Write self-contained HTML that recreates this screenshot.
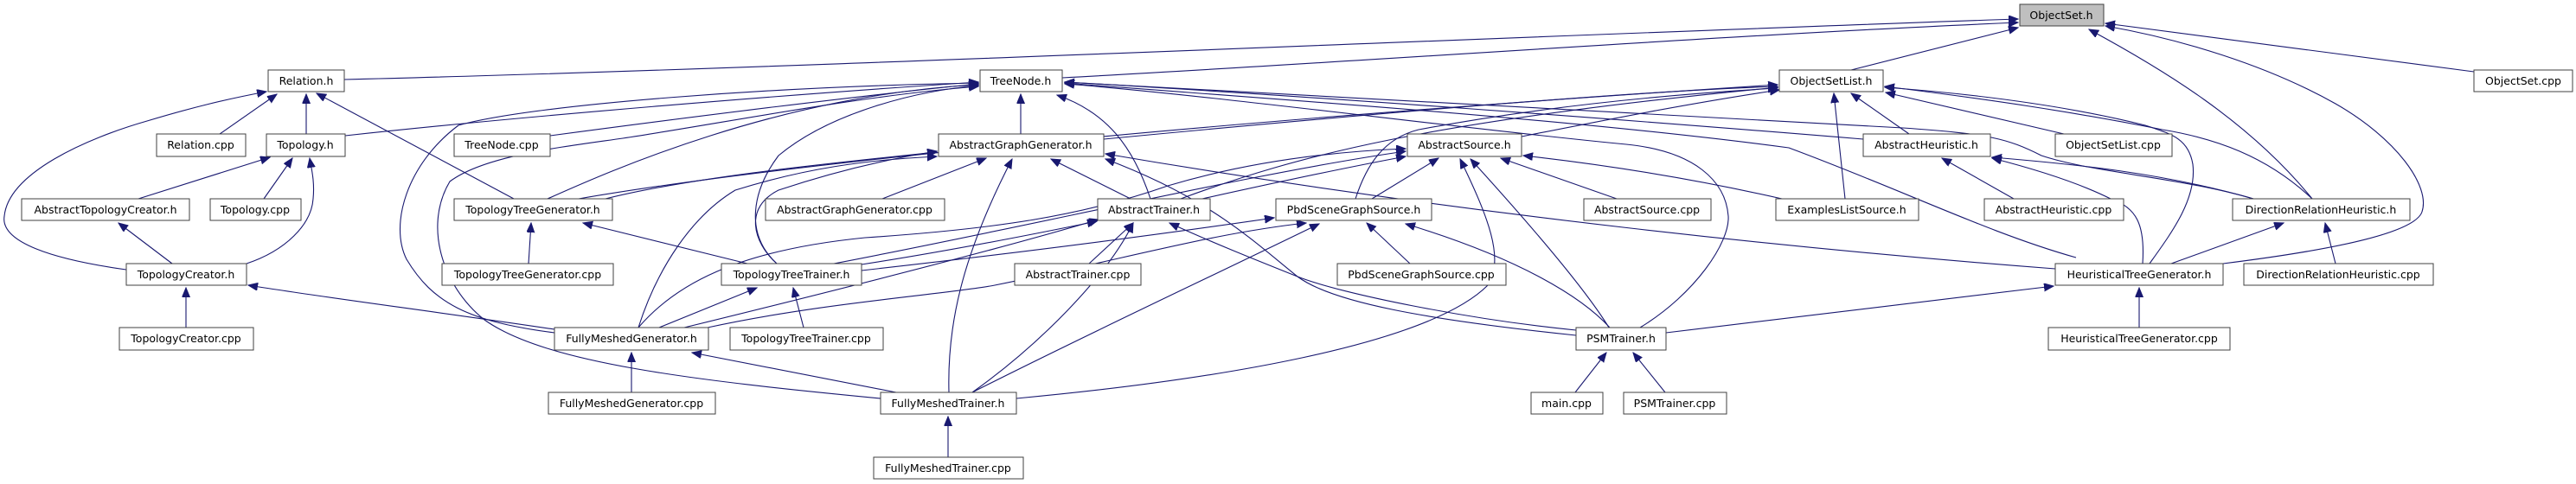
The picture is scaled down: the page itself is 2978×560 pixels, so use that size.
<!DOCTYPE html>
<html><head><meta charset="utf-8"><style>
html,body{margin:0;padding:0;background:#fff;}
svg{display:block;}
text{font-family:"DejaVu Sans","Liberation Sans",sans-serif;font-size:12.5px;fill:#000;}
.e{fill:none;stroke:#191970;stroke-width:1.1;}
.n{fill:#fff;stroke:#404040;stroke-width:1;}
</style></head><body>
<svg width="2978" height="560" viewBox="0 0 2978 560" xmlns="http://www.w3.org/2000/svg">
<defs><marker id="a" markerUnits="userSpaceOnUse" markerWidth="12" markerHeight="10" refX="11" refY="4.5" orient="auto"><path d="M0,0 L11,4.5 L0,9 z" fill="#191970" stroke="#191970"/></marker></defs>
<g class="e" marker-end="url(#a)">
<path d="M398,92 C900,80 1800,40 2333,22"/>
<path d="M1228,90 C1600,70 2000,40 2333,26"/>
<path d="M2140,81 L2333,32"/>
<path d="M2860,83 L2434,27"/>
<path d="M2673,230 C2600,140 2500,80 2415,34"/>
<path d="M2570,305 C2650,295 2790,275 2800,245 C2810,215 2770,160 2700,120 C2620,75 2520,45 2434,30"/>
<path d="M254,155 L320,109"/>
<path d="M354,155 L354,109"/>
<path d="M146,312 C60,300 0,280 5,250 C10,200 100,160 170,140 C220,125 260,115 308,106"/>
<path d="M594,230 L366,108"/>
<path d="M399,157 C600,135 900,110 1131,95"/>
<path d="M160,230 L312,182"/>
<path d="M305,230 L338,183"/>
<path d="M285,305 C330,290 360,260 362,230 C364,210 360,195 358,183"/>
<path d="M199,305 L137,258"/>
<path d="M215,379 L215,333"/>
<path d="M641,381 C500,360 380,345 287,330"/>
<path d="M636,157 C800,135 1000,110 1131,97"/>
<path d="M633,230 C700,200 900,110 1131,98"/>
<path d="M641,385 C540,372 500,350 470,300 C450,260 470,190 530,145 C620,120 900,100 1131,96"/>
<path d="M1180,155 L1180,109"/>
<path d="M1330,230 C1310,170 1280,130 1222,110"/>
<path d="M898,305 C860,270 870,220 900,180 C960,130 1060,105 1131,99"/>
<path d="M1896,379 C1960,340 2000,280 1998,250 C1995,210 1960,175 1880,167 C1700,150 1400,110 1231,97"/>
<path d="M2154,161 C1900,140 1500,110 1231,95"/>
<path d="M2605,230 C2520,205 2420,200 2360,180 C2320,160 2300,155 2200,148 C1800,125 1400,105 1231,95"/>
<path d="M2400,298 C2300,270 2200,220 2068,171 C1800,135 1400,110 1231,96"/>
<path d="M669,230 C900,190 1400,140 2055,98"/>
<path d="M1276,161 C1600,130 1900,105 2055,100"/>
<path d="M1365,230 C1500,180 1650,140 2055,101"/>
<path d="M1567,230 C1580,190 1600,160 1640,150 C1800,120 1950,108 2055,102"/>
<path d="M1759,158 C1850,140 1950,120 2057,104"/>
<path d="M2133,230 L2120,108"/>
<path d="M2207,155 L2140,108"/>
<path d="M2386,155 L2180,107"/>
<path d="M2673,230 C2620,180 2560,160 2500,150 C2400,130 2300,115 2179,100"/>
<path d="M2485,305 C2510,270 2540,230 2535,190 C2530,160 2510,155 2480,145 C2400,125 2300,110 2179,101"/>
<path d="M700,230 C800,205 950,190 1083,176"/>
<path d="M898,305 C870,280 860,240 900,220 C960,200 1020,185 1083,175"/>
<path d="M738,379 C760,310 800,250 850,220 C930,195 1000,185 1083,181"/>
<path d="M1020,230 L1140,183"/>
<path d="M1097,454 C1095,380 1110,300 1170,184"/>
<path d="M1307,230 L1215,184"/>
<path d="M1822,388 C1650,370 1540,350 1500,320 C1450,280 1400,230 1278,184"/>
<path d="M2376,311 C2100,290 1700,250 1278,178"/>
<path d="M996,306 C1100,290 1200,270 1268,256"/>
<path d="M791,379 C950,340 1150,290 1270,254"/>
<path d="M1124,454 C1200,400 1280,320 1310,258"/>
<path d="M1259,305 L1310,258"/>
<path d="M1822,382 C1700,370 1550,340 1500,320 C1450,300 1400,280 1352,258"/>
<path d="M1390,230 C1480,210 1550,195 1625,181"/>
<path d="M964,305 C1200,260 1450,200 1625,175"/>
<path d="M738,379 C780,330 850,290 1000,275 C1150,265 1250,250 1350,215 C1450,185 1550,175 1625,172"/>
<path d="M1586,230 L1663,183"/>
<path d="M1860,379 C1830,330 1760,250 1700,184"/>
<path d="M1175,461 C1400,440 1650,400 1720,330 C1740,300 1720,250 1688,184"/>
<path d="M1869,230 L1735,183"/>
<path d="M2060,230 C1950,205 1850,190 1761,180"/>
<path d="M996,313 C1200,290 1350,270 1473,252"/>
<path d="M818,379 C950,350 1100,340 1150,330 C1300,300 1400,270 1510,258"/>
<path d="M1124,454 C1250,390 1400,320 1525,259"/>
<path d="M1630,305 L1580,258"/>
<path d="M1861,379 C1830,345 1760,300 1625,259"/>
<path d="M611,305 L614,258"/>
<path d="M864,305 L674,258"/>
<path d="M929,379 L917,333"/>
<path d="M762,379 L875,333"/>
<path d="M730,454 L730,408"/>
<path d="M1036,454 L800,408"/>
<path d="M1096,529 L1096,482"/>
<path d="M1018,461 C800,440 630,420 560,370 C510,330 490,260 520,210 C560,180 650,170 720,160 C850,140 1000,110 1131,100"/>
<path d="M1821,454 L1857,408"/>
<path d="M1925,454 L1888,408"/>
<path d="M1926,385 L2374,331"/>
<path d="M2473,379 L2473,333"/>
<path d="M2510,305 L2640,258"/>
<path d="M2700,305 L2688,258"/>
<path d="M2328,230 L2245,183"/>
<path d="M2605,230 C2500,200 2400,190 2303,182"/>
<path d="M2477,305 C2480,260 2470,240 2440,230 C2400,210 2350,195 2303,183"/>
</g>
<g>
<rect x="2335" y="5" width="97" height="25" fill="#bfbfbf" stroke="#404040"/><text x="2383" y="22" text-anchor="middle">ObjectSet.h</text>
<g class="n">
<rect x="310" y="81" width="88" height="25"/><rect x="1133" y="81" width="95" height="25"/><rect x="2057" y="81" width="120" height="25"/><rect x="2860" y="81" width="114" height="25"/>
<rect x="181" y="155" width="103" height="26"/><rect x="308" y="155" width="91" height="26"/><rect x="525" y="155" width="111" height="26"/><rect x="1085" y="155" width="191" height="26"/><rect x="1627" y="155" width="132" height="26"/><rect x="2154" y="155" width="147" height="26"/><rect x="2376" y="155" width="135" height="26"/>
<rect x="25" y="230" width="194" height="25"/><rect x="243" y="230" width="105" height="25"/><rect x="525" y="230" width="183" height="25"/><rect x="885" y="230" width="207" height="25"/><rect x="1269" y="230" width="130" height="25"/><rect x="1475" y="230" width="180" height="25"/><rect x="1831" y="230" width="147" height="25"/><rect x="2053" y="230" width="165" height="25"/><rect x="2294" y="230" width="161" height="25"/><rect x="2581" y="230" width="205" height="25"/>
<rect x="146" y="305" width="139" height="25"/><rect x="511" y="305" width="198" height="25"/><rect x="834" y="305" width="162" height="25"/><rect x="1173" y="305" width="146" height="25"/><rect x="1546" y="305" width="195" height="25"/><rect x="2376" y="305" width="194" height="25"/><rect x="2594" y="305" width="219" height="25"/>
<rect x="138" y="379" width="155" height="26"/><rect x="641" y="379" width="178" height="26"/><rect x="844" y="379" width="177" height="26"/><rect x="1822" y="379" width="104" height="26"/><rect x="2368" y="379" width="210" height="26"/>
<rect x="634" y="454" width="193" height="25"/><rect x="1018" y="454" width="157" height="25"/><rect x="1770" y="454" width="83" height="25"/><rect x="1877" y="454" width="119" height="25"/>
<rect x="1010" y="529" width="173" height="25"/>
</g>
<g text-anchor="middle">
<text x="354" y="98">Relation.h</text><text x="1180" y="98">TreeNode.h</text><text x="2117" y="98">ObjectSetList.h</text><text x="2917" y="98">ObjectSet.cpp</text>
<text x="232" y="172">Relation.cpp</text><text x="353" y="172">Topology.h</text><text x="580" y="172">TreeNode.cpp</text><text x="1180" y="172">AbstractGraphGenerator.h</text><text x="1693" y="172">AbstractSource.h</text><text x="2227" y="172">AbstractHeuristic.h</text><text x="2443" y="172">ObjectSetList.cpp</text>
<text x="122" y="247">AbstractTopologyCreator.h</text><text x="295" y="247">Topology.cpp</text><text x="616" y="247">TopologyTreeGenerator.h</text><text x="988" y="247">AbstractGraphGenerator.cpp</text><text x="1334" y="247">AbstractTrainer.h</text><text x="1565" y="247">PbdSceneGraphSource.h</text><text x="1904" y="247">AbstractSource.cpp</text><text x="2135" y="247">ExamplesListSource.h</text><text x="2374" y="247">AbstractHeuristic.cpp</text><text x="2683" y="247">DirectionRelationHeuristic.h</text>
<text x="215" y="322">TopologyCreator.h</text><text x="610" y="322">TopologyTreeGenerator.cpp</text><text x="915" y="322">TopologyTreeTrainer.h</text><text x="1246" y="322">AbstractTrainer.cpp</text><text x="1643" y="322">PbdSceneGraphSource.cpp</text><text x="2473" y="322">HeuristicalTreeGenerator.h</text><text x="2703" y="322">DirectionRelationHeuristic.cpp</text>
<text x="215" y="396">TopologyCreator.cpp</text><text x="730" y="396">FullyMeshedGenerator.h</text><text x="932" y="396">TopologyTreeTrainer.cpp</text><text x="1874" y="396">PSMTrainer.h</text><text x="2473" y="396">HeuristicalTreeGenerator.cpp</text>
<text x="730" y="471">FullyMeshedGenerator.cpp</text><text x="1096" y="471">FullyMeshedTrainer.h</text><text x="1811" y="471">main.cpp</text><text x="1936" y="471">PSMTrainer.cpp</text>
<text x="1096" y="546">FullyMeshedTrainer.cpp</text>
</g>
</g>
</svg>
</body></html>
